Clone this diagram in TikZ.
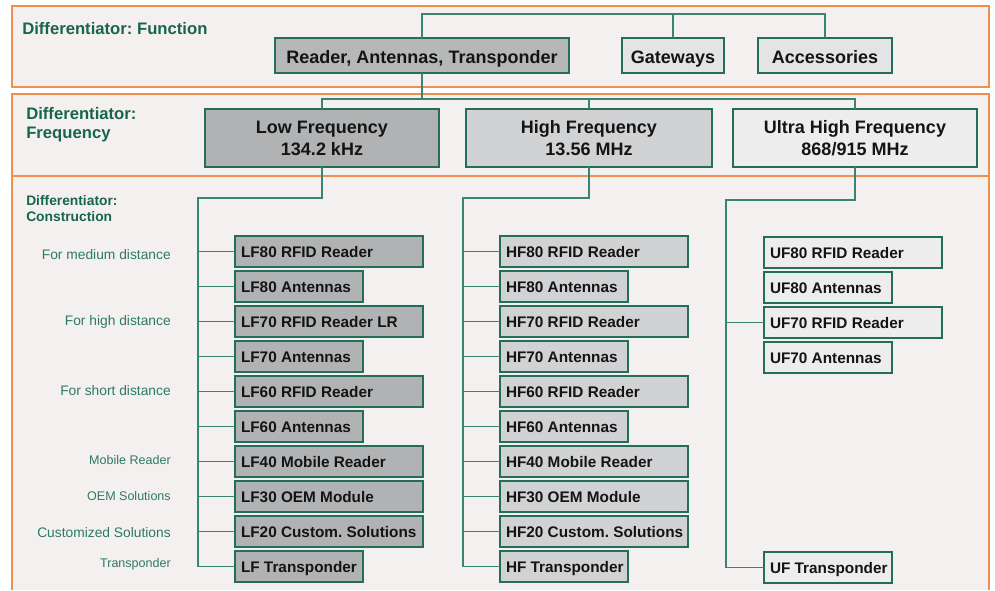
\documentclass[tikz,border=0pt]{standalone}
\usepackage{fontspec}
\setmainfont{Liberation Sans}
\frenchspacing
\definecolor{panelfill}{HTML}{F5F0F0}
\definecolor{panelline}{HTML}{F0904E}
\definecolor{dgreen}{HTML}{17664C}
\definecolor{lgreen}{HTML}{2B7A62}
\definecolor{boxline}{HTML}{226E58}
\definecolor{connc}{HTML}{3A8470}
\definecolor{gdark}{HTML}{B0B2B4}
\definecolor{gmid}{HTML}{D1D2D4}
\definecolor{glight}{HTML}{EDEDED}
\definecolor{greader}{HTML}{B5B7B9}
\definecolor{gtop}{HTML}{E3E4E5}
\newcommand{\boxW}[1]{\makebox[132pt][l]{#1}}
\newcommand{\boxN}[1]{\makebox[87pt][l]{#1}}
\newcommand{\boxU}[1]{\makebox[124.5pt][l]{#1}}
\begin{document}
\begin{tikzpicture}[x=0.75pt,y=-0.75pt,
  panel/.style={draw=panelline, line width=1.4pt, fill=panelfill},
  conn/.style={draw=connc, line width=1pt},
  bigbox/.style={draw=boxline, line width=1.4pt, anchor=north west, outer sep=0pt, inner sep=0pt,
    text=black!92, font=\bfseries\fontsize{13.5}{16.5}\selectfont},
  onebox/.style={bigbox, text height=12pt, text depth=0pt},
  twobox/.style={bigbox, align=center},
  item/.style={draw=boxline, line width=1.4pt, anchor=north west, outer sep=0pt,
    inner xsep=4.5pt, inner ysep=0pt, minimum height=23.25pt,
    text height=8.3pt, text depth=0pt,
    text=black!92, font=\bfseries\fontsize{11.5}{13.8}\selectfont},
  lfbox/.style={item, fill=gdark},
  hfbox/.style={item, fill=gmid},
  ufbox/.style={item, fill=glight},
  difftxt/.style={anchor=base west, text=dgreen, inner sep=0pt, font=\bfseries\fontsize{12.5}{15}\selectfont},
  diffsmall/.style={anchor=base west, text=dgreen, inner sep=0pt, font=\bfseries\fontsize{10.35}{12}\selectfont},
  lbla/.style={anchor=base east, text=lgreen, inner sep=0pt, font=\fontsize{10.35}{12}\selectfont},
  lblb/.style={anchor=base east, text=lgreen, inner sep=0pt, font=\fontsize{9.4}{11}\selectfont}
]
\useasboundingbox (0,0) rectangle (995,590);
% panels
\fill[panelfill] (12,176) rectangle (989,590);
\draw[panelline, line width=1.4pt] (12,590) -- (12,176) -- (989,176) -- (989,590);
\draw[panel] (12,6) rectangle (989,87);
\draw[panel] (12,94) rectangle (989,176);

% differentiator labels
\node[difftxt] (dfun) at (22,34) {Differentiator: Function};
\node[difftxt] (dfreq1) at (26,119) {Differentiator:};
\node[difftxt] (dfreq2) at (26,138) {Frequency};
\node[diffsmall] (dcon1) at (26,205) {Differentiator:};
\node[diffsmall] (dcon2) at (26,221) {Construction};

% top row
\node[onebox, fill=greader, minimum width=220.5pt, minimum height=26.25pt] (reader) at (275,38) {Reader, Antennas, Transponder};
\node[onebox, fill=gtop, minimum width=76.5pt, minimum height=26.25pt] (gw) at (622,38) {Gateways};
\node[onebox, fill=gtop, minimum width=100.5pt, minimum height=26.25pt] (acc) at (758,38) {Accessories};

% frequency row
\node[twobox, fill=gdark, minimum width=175.5pt, minimum height=43.5pt] (low) at (205,109) {Low Frequency\\134.2 kHz};
\node[twobox, fill=gmid, minimum width=184.5pt, minimum height=43.5pt] (high) at (466,109) {High Frequency\\13.56 MHz};
\node[twobox, fill=glight, minimum width=183pt, minimum height=43.5pt] (ultra) at (733,109) {Ultra High Frequency\\868/915 MHz};

% LF boxes
\node[lfbox] (lf1)  at (235,236) {\boxW{LF80 RFID Reader}};
\node[lfbox] (lf2)  at (235,271) {\boxN{LF80 Antennas}};
\node[lfbox] (lf3)  at (235,306) {\boxW{LF70 RFID Reader LR}};
\node[lfbox] (lf4)  at (235,341) {\boxN{LF70 Antennas}};
\node[lfbox] (lf5)  at (235,376) {\boxW{LF60 RFID Reader}};
\node[lfbox] (lf6)  at (235,411) {\boxN{LF60 Antennas}};
\node[lfbox] (lf7)  at (235,446) {\boxW{LF40 Mobile Reader}};
\node[lfbox] (lf8)  at (235,481) {\boxW{LF30 OEM Module}};
\node[lfbox] (lf9)  at (235,516) {\boxW{LF20 Custom. Solutions}};
\node[lfbox] (lf10) at (235,551) {\boxN{LF Transponder}};

% HF boxes
\node[hfbox] (hf1)  at (500,236) {\boxW{HF80 RFID Reader}};
\node[hfbox] (hf2)  at (500,271) {\boxN{HF80 Antennas}};
\node[hfbox] (hf3)  at (500,306) {\boxW{HF70 RFID Reader}};
\node[hfbox] (hf4)  at (500,341) {\boxN{HF70 Antennas}};
\node[hfbox] (hf5)  at (500,376) {\boxW{HF60 RFID Reader}};
\node[hfbox] (hf6)  at (500,411) {\boxN{HF60 Antennas}};
\node[hfbox] (hf7)  at (500,446) {\boxW{HF40 Mobile Reader}};
\node[hfbox] (hf8)  at (500,481) {\boxW{HF30 OEM Module}};
\node[hfbox] (hf9)  at (500,516) {\boxW{HF20 Custom. Solutions}};
\node[hfbox] (hf10) at (500,551) {\boxN{HF Transponder}};

% UF boxes
\node[ufbox] (uf1) at (764,237) {\boxU{UF80 RFID Reader}};
\node[ufbox] (uf2) at (764,272) {\boxN{UF80 Antennas}};
\node[ufbox] (uf3) at (764,307) {\boxU{UF70 RFID Reader}};
\node[ufbox] (uf4) at (764,342) {\boxN{UF70 Antennas}};
\node[ufbox] (uf5) at (764,552) {\boxN{UF Transponder}};

% left labels
\node[lbla] (l1) at (171,259) {For medium distance};
\node[lbla] (l2) at (171,325) {For high distance};
\node[lbla] (l3) at (171,395) {For short distance};
\node[lblb] (l4) at (171,464) {Mobile Reader};
\node[lblb] (l5) at (171,500) {OEM Solutions};
\node[lbla] (l6) at (171,537) {Customized Solutions};
\node[lblb] (l7) at (171,567) {Transponder};

% connector helper coordinates
\coordinate (topbar) at (0,14);
\coordinate (fbar) at (0,99);
\coordinate (lbar) at (0,198);
\coordinate (ubar) at (0,200);
\coordinate (lfx) at (198,0);
\coordinate (hfx) at (463,0);
\coordinate (ufx) at (726,0);

% top connectors
\draw[conn] (reader.north) |- (topbar -| acc.north) -- (acc.north);
\draw[conn] (gw.north) -- (gw.north |- topbar);
% frequency connectors
\draw[conn] (reader.south) -- (reader.south |- fbar);
\draw[conn] (low.north) |- (fbar -| ultra.north) -- (ultra.north);
\draw[conn] (high.north) -- (high.north |- fbar);
% construction connectors
\draw[conn] (low.south) |- (lfx |- lbar) |- (lf10.west);
\draw[conn] (high.south) |- (hfx |- lbar) |- (hf10.west);
\draw[conn] (ultra.south) |- (ufx |- ubar) |- (uf5.west);
\foreach \i in {1,...,9} {
  \draw[conn] (lfx |- lf\i.west) -- (lf\i.west);
  \draw[conn] (hfx |- hf\i.west) -- (hf\i.west);
}
\draw[conn] (ufx |- uf3.west) -- (uf3.west);
\end{tikzpicture}
\end{document}
